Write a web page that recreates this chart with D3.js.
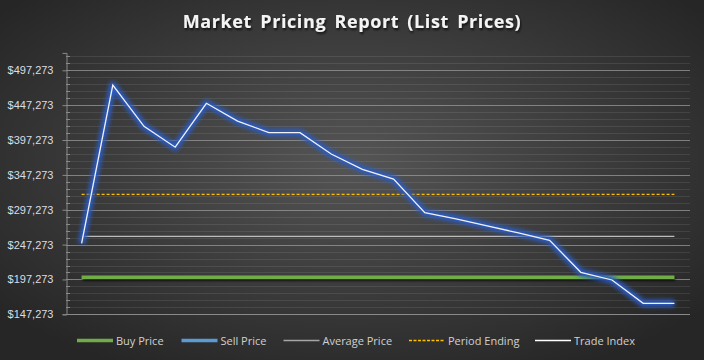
<!DOCTYPE html>
<html lang="en">
<head>
    <meta charset="UTF-8">
    <title>Market Pricing Report (List Prices)</title>
    <style>
        body {
            margin: 0;
            padding: 0;
            background: #2b2b2b;
        }

        svg {
            display: block;
            font-family: "Open Sans", sans-serif;
        }

        .ylabel {
            font-size: 11px;
            fill: #d9dde4;
        }

        .legend text {
            font-size: 11px;
            fill: #d0d0d0;
        }
    </style>
</head>
<body>

<svg width="704" height="360" id="chart"></svg>

<script src="https://d3js.org/d3.v7.min.js"></script>
<script>
    // Data
    const periods = ["1", "2", "3", "4", "5", "6", "7", "8", "9", "10",
                     "11", "12", "13", "14", "15", "16", "17", "18", "19", "20"];
    const sellPrice = [249000, 476000, 417000, 387000, 450000, 424500, 407800, 407800, 377200, 355300,
                       341300, 293000, 284300, 274200, 264000, 253400, 207500, 196500, 163000, 163000];
    const buyPrice = [200300, 200300, 200300, 200300, 200300, 200300, 200300, 200300, 200300, 200300,
                      200300, 200300, 200300, 200300, 200300, 200300, 200300, 200300, 200300, 200300];
    const averagePrice = [259200, 259200, 259200, 259200, 259200, 259200, 259200, 259200, 259200, 259200,
                          259200, 259200, 259200, 259200, 259200, 259200, 259200, 259200, 259200, 259200];
    const periodEnding = [319400, 319400, 319400, 319400, 319400, 319400, 319400, 319400, 319400, 319400,
                          319400, 319400, 319400, 319400, 319400, 319400, 319400, 319400, 319400, 319400];
    const tradeIndex = sellPrice;
    const yTicks = [147273, 197273, 247273, 297273, 347273, 397273, 447273, 497273];
    const yMinorTicks = d3.range(157273, 522273, 10000);
    const legendNames = ["Buy Price", "Sell Price", "Average Price", "Period Ending", "Trade Index"];

    const svg = d3.select("#chart");
    const W = 704, H = 360;

    const defs = svg.append("defs");

    // Background: dark radial gradient
    const bg = defs.append("radialGradient")
        .attr("id", "bgGrad")
        .attr("cx", "50%").attr("cy", "45%").attr("r", "65%");
    bg.append("stop").attr("offset", "0%").attr("stop-color", "#555555");
    bg.append("stop").attr("offset", "100%").attr("stop-color", "#262626");

    // Glow for the sell price line
    const glow = defs.append("filter")
        .attr("id", "glow")
        .attr("filterUnits", "userSpaceOnUse")
        .attr("x", 0).attr("y", 0).attr("width", W).attr("height", H);
    glow.append("feGaussianBlur").attr("stdDeviation", 2.2);

    // Soft shadow for title and green line
    const shadow = defs.append("filter")
        .attr("id", "shadow")
        .attr("filterUnits", "userSpaceOnUse")
        .attr("x", 0).attr("y", 0).attr("width", W).attr("height", H);
    shadow.append("feDropShadow")
        .attr("dx", 1).attr("dy", 2).attr("stdDeviation", 1.2)
        .attr("flood-color", "#000").attr("flood-opacity", 0.7);

    svg.append("rect")
        .attr("width", W).attr("height", H)
        .attr("fill", "url(#bgGrad)");

    // Title
    svg.append("text")
        .attr("x", W / 2).attr("y", 28)
        .attr("text-anchor", "middle")
        .attr("filter", "url(#shadow)")
        .style("font-size", "18px")
        .style("font-weight", "bold")
        .style("letter-spacing", "0.6px")
        .style("word-spacing", "3px")
        .style("fill", "#f4f4f4")
        .text("Market Pricing Report (List Prices)");

    // Scales
    const margin = { top: 52.9, right: 14, bottom: 45.7, left: 66 };
    const x = d3.scaleBand()
        .domain(periods)
        .range([margin.left, W - margin.right]);

    const y = d3.scaleLinear()
        .domain([147273, 522273])
        .range([H - margin.bottom, margin.top]);

    const xc = d => x(d) + x.bandwidth() / 2;

    // Minor gridlines
    svg.append("g")
        .selectAll("line")
        .data(yMinorTicks.filter(v => !yTicks.includes(v)))
        .enter().append("line")
        .attr("x1", margin.left).attr("x2", W - margin.right)
        .attr("y1", d => Math.round(y(d)) + 0.5).attr("y2", d => Math.round(y(d)) + 0.5)
        .attr("stroke", "#ffffff")
        .attr("stroke-opacity", 0.09);

    // Major gridlines
    svg.append("g")
        .selectAll("line")
        .data(yTicks.slice(1))
        .enter().append("line")
        .attr("x1", margin.left).attr("x2", W - margin.right)
        .attr("y1", d => Math.round(y(d)) + 0.5).attr("y2", d => Math.round(y(d)) + 0.5)
        .attr("stroke", "#9a9a9a")
        .attr("stroke-opacity", 0.75);

    // Bottom axis line
    svg.append("line")
        .attr("x1", margin.left).attr("x2", W - margin.right)
        .attr("y1", Math.round(y(147273)) + 0.5).attr("y2", Math.round(y(147273)) + 0.5)
        .attr("stroke", "#8a8a8a");

    // Y axis with major ticks outside
    const yAxis = svg.append("g")
        .attr("transform", `translate(${margin.left + 0.5},0)`)
        .call(d3.axisLeft(y).tickValues(yTicks).tickSize(4).tickPadding(9)
            .tickFormat(d => "$" + d3.format(",")(d)));
    yAxis.select(".domain").attr("stroke", "#8a8a8a");
    yAxis.selectAll(".tick line").attr("stroke", "#8a8a8a");
    yAxis.selectAll(".tick text").attr("class", "ylabel").attr("font-family", null).attr("font-size", null).attr("fill", null);

    // Minor ticks inside
    svg.append("g")
        .selectAll("line")
        .data(yMinorTicks)
        .enter().append("line")
        .attr("x1", margin.left).attr("x2", margin.left + 4)
        .attr("y1", d => Math.round(y(d)) + 0.5).attr("y2", d => Math.round(y(d)) + 0.5)
        .attr("stroke", "#8a8a8a");

    const line = d3.line()
        .x((d, i) => xc(periods[i]))
        .y(d => y(d));

    // Average price
    svg.append("path")
        .datum(averagePrice)
        .attr("d", line)
        .attr("fill", "none")
        .attr("stroke", "#bdbdbd")
        .attr("stroke-width", 1.3);

    // Period ending
    svg.append("path")
        .datum(periodEnding)
        .attr("d", line)
        .attr("fill", "none")
        .attr("stroke", "#ffc000")
        .attr("stroke-width", 1.3)
        .attr("stroke-dasharray", "3,2");

    // Buy price
    svg.append("path")
        .datum(buyPrice)
        .attr("d", line)
        .attr("fill", "none")
        .attr("filter", "url(#shadow)")
        .attr("stroke", "#70ad47")
        .attr("stroke-width", 3.5);

    // Sell price (blue glow)
    svg.append("path")
        .datum(sellPrice)
        .attr("d", line)
        .attr("fill", "none")
        .attr("filter", "url(#glow)")
        .attr("stroke", "#2a5cc4")
        .attr("stroke-width", 7)
        .attr("stroke-linejoin", "round");

    // Trade index (white line)
    svg.append("path")
        .datum(tradeIndex)
        .attr("d", line)
        .attr("fill", "none")
        .attr("stroke", "#f2f2f2")
        .attr("stroke-width", 1.3);

    // Legend
    const legendX = [77, 181.5, 283.5, 409, 535];
    const legendStyle = [
        { color: "#70ad47", width: 3.5, dash: null },
        { color: "#5b9bd5", width: 3.5, dash: null },
        { color: "#a6a6a6", width: 1.3, dash: null },
        { color: "#ffc000", width: 1.3, dash: "3,1.5" },
        { color: "#ffffff", width: 1.3, dash: null }
    ];
    const legend = svg.append("g").attr("class", "legend");
    const item = legend.selectAll("g")
        .data(legendNames)
        .enter().append("g")
        .attr("transform", (d, i) => `translate(${legendX[i]},340.5)`);
    item.append("line")
        .attr("x1", 0).attr("x2", 36)
        .attr("stroke", (d, i) => legendStyle[i].color)
        .attr("stroke-width", (d, i) => legendStyle[i].width)
        .attr("stroke-dasharray", (d, i) => legendStyle[i].dash);
    item.append("text")
        .attr("x", 39).attr("y", 4)
        .text(d => d);
</script>
</body>
</html>
